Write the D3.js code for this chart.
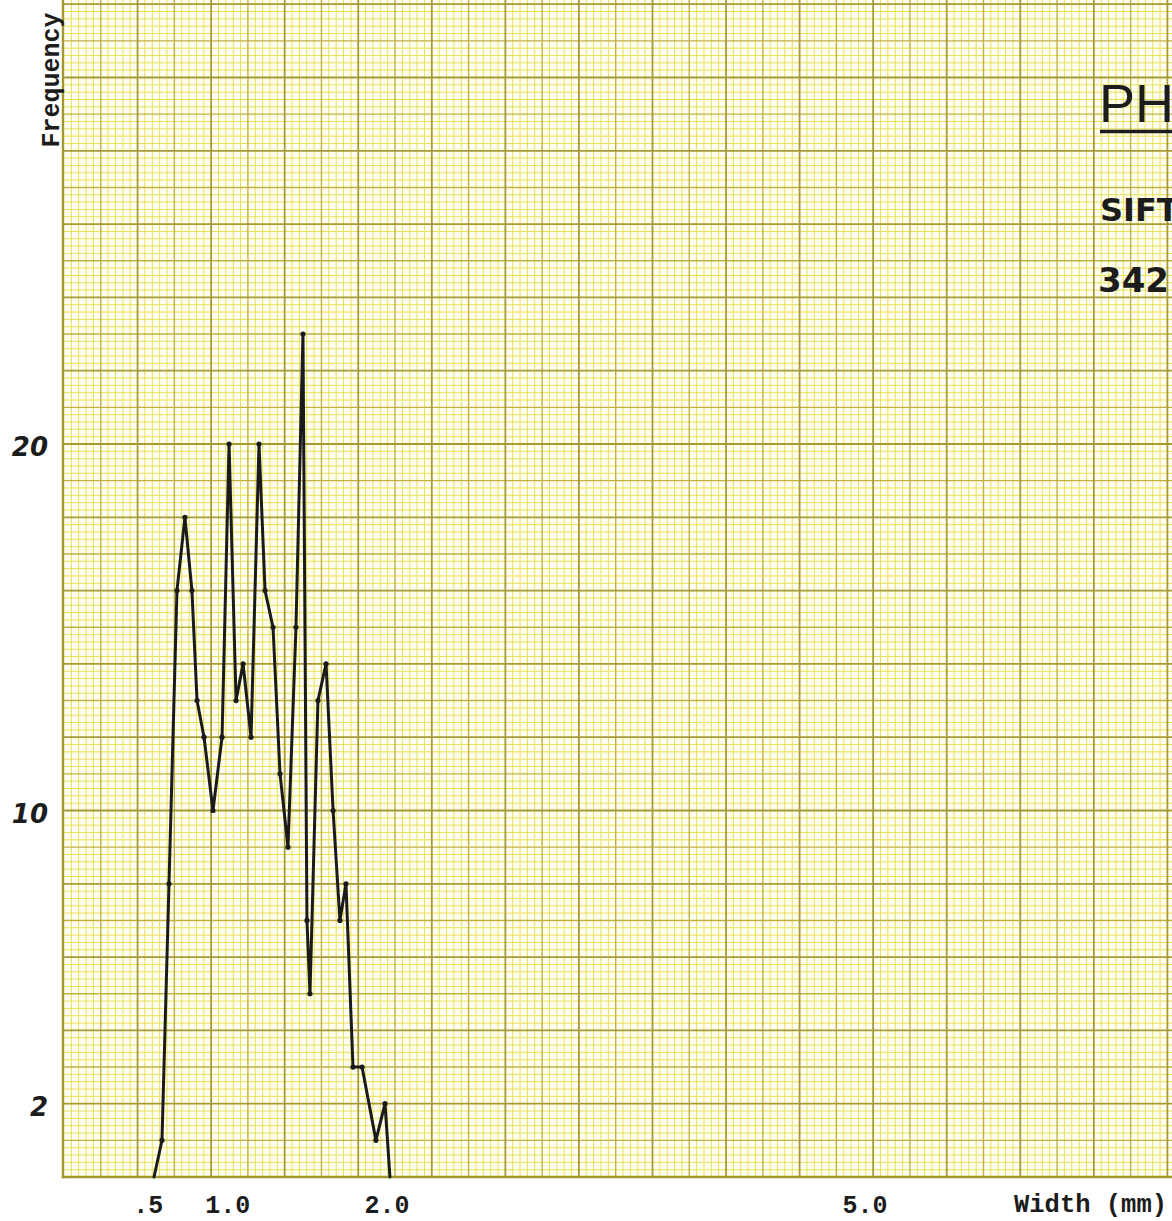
<!DOCTYPE html>
<html>
<head>
<meta charset="utf-8">
<title>Frequency by width</title>
<script src="https://cdn.jsdelivr.net/npm/d3@7"></script>
<style>
  html, body { margin: 0; padding: 0; background: #ffffff; }
  svg { display: block; }
</style>
</head>
<body>
<svg id="chart" width="1172" height="1221"></svg>
<script>
// Measured widths (mm) and how often each occurred
const widthMM = [0.540, 0.590, 0.634, 0.684, 0.734, 0.778, 0.810, 0.854, 0.910, 0.967,
                 1.011, 1.055, 1.099, 1.149, 1.199, 1.237, 1.287, 1.331, 1.381, 1.431,
                 1.475, 1.500, 1.519, 1.569, 1.620, 1.664, 1.707, 1.745, 1.789, 1.846,
                 1.933, 1.990, 2.021];
const frequency = [0, 1, 8, 16, 18, 16, 13, 12, 10, 12,
                   20, 13, 14, 12, 20, 16, 15, 11, 9, 15,
                   23, 7, 5, 13, 14, 10, 7, 8, 3, 3,
                   1, 2, 0];

// Axis labels
const xTicks = [0.5, 1.0, 2.0, 5.0];
const xTickLabels = [".5", "1.0", "2.0", "5.0"];
const yTicks = [2, 10, 20];
const yTickLabels = ["2", "10", "20"];
const xTitle = "Width (mm)";
const yTitle = "Frequency";
const headings = ["PH", "SIFT", "342"];

const svg = d3.select("#chart");

// Data scales
const x = d3.scaleLinear().domain([0, 7]).range([68, 68 + 159.3 * 7]);
const y = d3.scaleLinear().domain([0, 32.2]).range([1177, 1177 - 32.2 * 36.65]);

// Ruled paper: vertical rulings counted in blocks, horizontal rulings follow frequency units
const paperX = d3.scaleLinear().domain([0, 1]).range([64, 64 + 36.78]);
const left = 63, bottom = 1177;

const grid = svg.append("g").attr("class", "paper");
grid.append("rect").attr("x", left).attr("y", 0)
  .attr("width", 1172 - left).attr("height", bottom)
  .attr("fill", "#fffef2");

const vMinor = d3.range(0, 30.01, 0.2).map(v => +v.toFixed(1));
const hMinor = d3.range(0, 32.21, 0.2).map(v => +v.toFixed(1));

function tier(v) {
  if (Math.abs(v - Math.round(v)) > 1e-6) return "minor";
  return Math.round(v) % 2 === 0 ? "major" : "medium";
}
const style = {
  minor:  { stroke: "#e8e058", width: 1.0 },
  medium: { stroke: "#bfb242", width: 1.4 },
  major:  { stroke: "#a89a34", width: 1.8 }
};

["minor", "medium", "major"].forEach(t => {
  grid.selectAll(null)
    .data(vMinor.filter(v => tier(v) === t && paperX(v) > left + 1))
    .join("line")
    .attr("x1", d => paperX(d)).attr("x2", d => paperX(d))
    .attr("y1", 0).attr("y2", bottom)
    .attr("stroke", style[t].stroke)
    .attr("stroke-width", style[t].width);
  grid.selectAll(null)
    .data(hMinor.filter(v => tier(v) === t && v > 0))
    .join("line")
    .attr("x1", left).attr("x2", 1172)
    .attr("y1", d => y(d)).attr("y2", d => y(d))
    .attr("stroke", style[t].stroke)
    .attr("stroke-width", style[t].width);
});

// Frame along the left and bottom edges
grid.append("line").attr("x1", left).attr("x2", left).attr("y1", 0).attr("y2", bottom + 1.2)
  .attr("stroke", "#a49630").attr("stroke-width", 2.4);
grid.append("line").attr("x1", left - 1.2).attr("x2", 1172).attr("y1", bottom).attr("y2", bottom)
  .attr("stroke", "#a49630").attr("stroke-width", 2.4);

// Axes (labels only)
const xAxis = d3.axisBottom(x)
  .tickValues(xTicks)
  .tickSize(0)
  .tickFormat((d, i) => xTickLabels[i]);
const gx = svg.append("g").attr("transform", `translate(0,${bottom})`).call(xAxis);
gx.select(".domain").remove();
gx.selectAll("text")
  .attr("y", 36).attr("dy", 0)
  .attr("font-family", "'Liberation Mono', 'DejaVu Sans Mono', monospace")
  .attr("font-weight", "bold")
  .attr("font-size", 25)
  .attr("fill", "#1c1c1c");

const yAxis = d3.axisLeft(y)
  .tickValues(yTicks)
  .tickSize(0)
  .tickFormat((d, i) => yTickLabels[i]);
const gy = svg.append("g").attr("transform", "translate(48,0)").call(yAxis);
gy.select(".domain").remove();
gy.selectAll("text")
  .attr("x", 0).attr("dy", "0.45em")
  .attr("font-family", "'DejaVu Sans', sans-serif")
  .attr("font-style", "italic")
  .attr("font-weight", "bold")
  .attr("font-size", 26)
  .attr("fill", "#1c1c1c");

// Axis titles
svg.append("text")
  .attr("x", 1167).attr("y", 1212)
  .attr("text-anchor", "end")
  .attr("font-family", "'Liberation Mono', 'DejaVu Sans Mono', monospace")
  .attr("font-weight", "bold")
  .attr("font-size", 25.5)
  .attr("fill", "#1c1c1c")
  .text(xTitle);

svg.append("text")
  .attr("transform", "translate(59,80) rotate(-90)")
  .attr("text-anchor", "middle")
  .attr("font-family", "'Liberation Mono', 'DejaVu Sans Mono', monospace")
  .attr("font-weight", "bold")
  .attr("font-size", 25)
  .attr("fill", "#1c1c1c")
  .text(yTitle);

// Heading block
svg.append("text")
  .attr("x", 1099).attr("y", 122)
  .attr("font-family", "'Liberation Sans', sans-serif")
  .attr("font-size", 54)
  .attr("fill", "#1c1c1c")
  .text(headings[0]);
svg.append("line")
  .attr("x1", 1100).attr("x2", 1172).attr("y1", 131.5).attr("y2", 131.5)
  .attr("stroke", "#1c1c1c").attr("stroke-width", 3.6);
svg.append("text")
  .attr("x", 1100).attr("y", 221)
  .attr("font-family", "'DejaVu Sans', sans-serif")
  .attr("font-weight", "bold")
  .attr("font-size", 32)
  .attr("fill", "#1c1c1c")
  .text(headings[1]);
svg.append("text")
  .attr("x", 1098).attr("y", 292)
  .attr("font-family", "'DejaVu Sans', sans-serif")
  .attr("font-weight", "bold")
  .attr("font-size", 34)
  .attr("fill", "#1c1c1c")
  .text(headings[2]);

// Frequency polygon
const pts = widthMM.map((w, i) => [w, frequency[i]]);
svg.append("path")
  .datum(pts)
  .attr("fill", "none")
  .attr("stroke", "#1a1a1a")
  .attr("stroke-width", 3)
  .attr("stroke-linejoin", "round")
  .attr("stroke-linecap", "round")
  .attr("d", d3.line().x(d => x(d[0])).y(d => y(d[1])));

svg.append("g").selectAll("circle")
  .data(pts.slice(1, -1))
  .join("circle")
  .attr("cx", d => x(d[0]))
  .attr("cy", d => y(d[1]))
  .attr("r", 2.6)
  .attr("fill", "#1a1a1a");
</script>
</body>
</html>
